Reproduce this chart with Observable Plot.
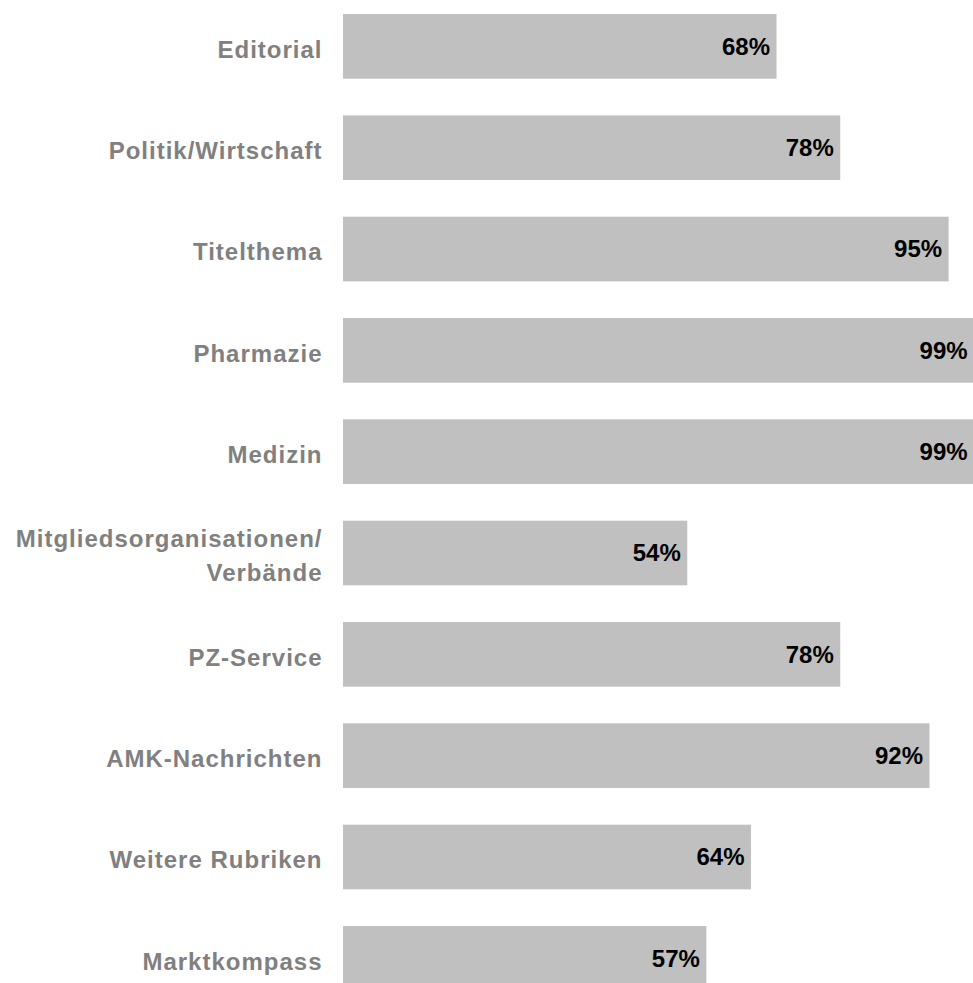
<!DOCTYPE html>
<html>
<head>
<meta charset="utf-8">
<script src="https://cdn.jsdelivr.net/npm/d3@7"></script>
<script src="https://cdn.jsdelivr.net/npm/@observablehq/plot@0.6"></script>
<style>
  html, body { margin: 0; padding: 0; background: #fff; overflow: hidden; }
  #chart svg { display: block; }
</style>
</head>
<body>
<div id="chart"></div>
<script>
const categories = [
  "Editorial",
  "Politik/Wirtschaft",
  "Titelthema",
  "Pharmazie",
  "Medizin",
  "Mitgliedsorganisationen/\nVerbände",
  "PZ-Service",
  "AMK-Nachrichten",
  "Weitere Rubriken",
  "Marktkompass"
];
const values = [68, 78, 95, 99, 99, 54, 78, 92, 64, 57];

const data = categories.map((c, i) => ({category: c, value: values[i]}));

const chart = Plot.plot({
  width: 973,
  height: 983,
  marginLeft: 343,
  marginRight: -7.5,
  marginTop: -4.3,
  marginBottom: -26,
  style: {fontFamily: "'Liberation Sans', Arial, sans-serif", background: "#fff"},
  x: {domain: [0, 100], axis: null},
  y: {domain: categories, paddingInner: 0.362, paddingOuter: 0.181, round: false, axis: null},
  marks: [
    Plot.barX(data, {x: "value", y: "category", fill: "#c0c0c0"}),
    Plot.text(data, {
      x: "value", y: "category", text: d => d.value + "%",
      textAnchor: "end", dx: -7, fontSize: 24, fontWeight: "bold", fill: "#000"
    }),
    Plot.text(data, {
      y: "category", text: "category", frameAnchor: "left",
      textAnchor: "end", dx: -21, fontSize: 24, fontWeight: "bold", fill: "#808080", lineHeight: 1.4
    })
  ]
});
d3.select(chart).selectAll('g[aria-label="text"]').filter((d, i) => i === 1).attr("letter-spacing", "1");
document.getElementById("chart").appendChild(chart);
</script>
</body>
</html>
